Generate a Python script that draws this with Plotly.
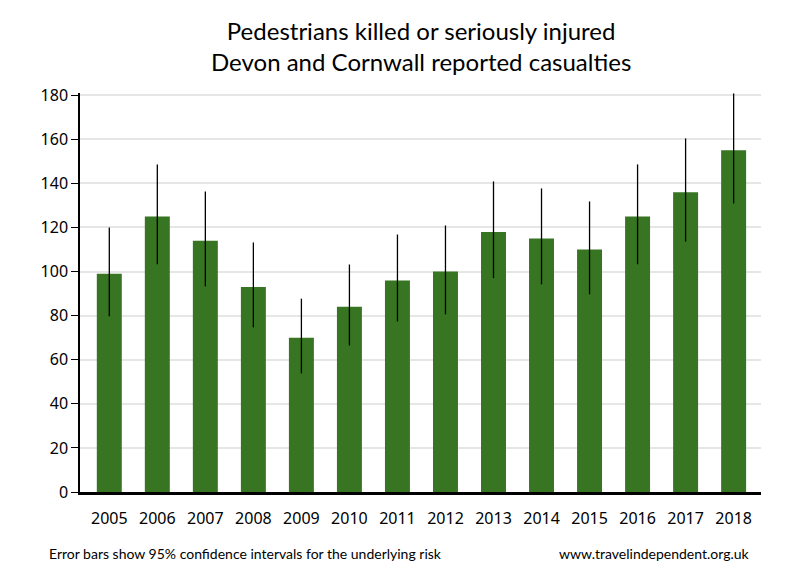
import plotly.graph_objects as go

# Devon and Cornwall pedestrian KSI casualties
years = ["2005", "2006", "2007", "2008", "2009", "2010", "2011",
         "2012", "2013", "2014", "2015", "2016", "2017", "2018"]
casualties = [99, 125, 114, 93, 70, 84, 96, 100, 118, 115, 110, 125, 136, 155]
ci_upper = [120, 148.6, 136.3, 113.2, 87.7, 103.2, 116.8,
            120.9, 140.9, 137.7, 131.8, 148.6, 160.4, 180.8]
ci_lower = [79.7, 103.3, 93.3, 74.7, 53.8, 66.5, 77.4,
            80.6, 97, 94.2, 89.7, 103.3, 113.6, 130.9]

err_plus = [u - v for u, v in zip(ci_upper, casualties)]
err_minus = [v - l for v, l in zip(casualties, ci_lower)]

fig = go.Figure()
fig.add_trace(go.Bar(
    x=list(range(len(years))),
    y=casualties,
    width=0.52,
    marker=dict(color="#377522", line=dict(width=0)),
    error_y=dict(type="data", symmetric=False, array=err_plus,
                 arrayminus=err_minus, color="black", thickness=1.3, width=0),
))

# page has an 8px body margin, so margins are offset by that
fig.update_layout(
    width=800, height=580,
    margin=dict(l=72, r=47, t=85, b=96),
    paper_bgcolor="white", plot_bgcolor="white",
    showlegend=False,
    font=dict(family="Noto Sans, sans-serif", color="black"),
)

fig.update_xaxes(
    tickmode="array", tickvals=list(range(len(years))), ticktext=years,
    range=[-0.61, 13.57],
    showline=True, linecolor="black", linewidth=2.5,
    showgrid=False, ticks="", tickfont=dict(size=16, color="black"),
    ticklabelstandoff=10,
    zeroline=False,
)
fig.update_yaxes(
    range=[0, 181], tickvals=list(range(0, 181, 20)),
    showline=True, linecolor="black", linewidth=1.5,
    showgrid=True, gridcolor="#e6e6e6", gridwidth=1.7,
    ticks="outside", ticklen=7, tickwidth=1.3, tickcolor="black",
    tickfont=dict(size=16, color="black"),
    zeroline=False,
)

# title as an annotation so both lines sit where they should
fig.add_annotation(
    text="Pedestrians killed or seriously injured<br>Devon and Cornwall reported casualties",
    xref="paper", yref="paper", x=0.5, y=1.119, xanchor="center", yanchor="middle",
    showarrow=False, font=dict(family="Lato, Noto Sans, sans-serif", size=24, color="black"),
)
fig.add_annotation(
    text="Error bars show 95% confidence intervals for the underlying risk",
    xref="paper", yref="paper", x=-0.0485, y=-0.153, xanchor="left", yanchor="middle",
    showarrow=False, font=dict(family="Lato, sans-serif", size=14, color="black"),
)
fig.add_annotation(
    text="www.travelindependent.org.uk",
    xref="paper", yref="paper", x=0.987, y=-0.153, xanchor="right", yanchor="middle",
    showarrow=False, font=dict(family="Lato, sans-serif", size=14, color="black"),
)

fig.write_html("out.html")
